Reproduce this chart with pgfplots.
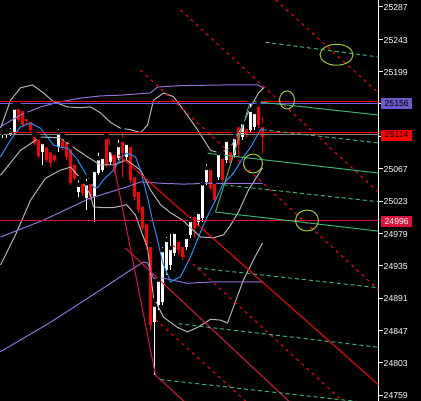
\documentclass[border=0pt]{standalone}
\usepackage{fontspec}
\setmainfont{Liberation Sans}
\usepackage{pgfplots}
\pgfplotsset{compat=1.18}
\usepackage{pgfplotstable}

\definecolor{mtblue}{RGB}{30,144,255}
\definecolor{mtpurple}{RGB}{147,112,219}
\definecolor{mtslate}{RGB}{106,90,205}
\definecolor{mtlevel}{RGB}{105,95,245}
\definecolor{mtgreen}{RGB}{60,179,113}
\definecolor{mtsilver}{RGB}{180,180,180}
\definecolor{mtgray}{RGB}{128,128,128}
\definecolor{mtcrimson}{RGB}{220,20,60}
\definecolor{mtyg}{RGB}{154,205,50}

% x = bar position, o h l c = prices
\pgfplotstableread{
x o h l c
2 25113 25120 25109 25116
6 25113 25122 25109 25117
10 25114 25125 25111 25118
14 25116 25154 25113 25150
42 25090 25106 25072 25103
58 25096 25124 25090 25117
78 25035 25054 25028 25045
86 25027 25056 25011 25047
94 25028 25069 24994 25065
98 25061 25092 25058 25081
102 25065 25087 25062 25083
110 25076 25096 25072 25092
118 25081 25109 25079 25099
126 25083 25106 25079 25102
154 24858 24888 24786 24882
158 24882 24922 24875 24916
162 24886 24963 24882 24956
166 24929 24977 24922 24970
170 24936 24981 24929 24959
174 24952 24986 24948 24981
186 24960 24980 24956 24974
190 24977 25004 24973 24997
198 24994 25014 24989 25008
202 25000 25052 24994 25047
206 25049 25076 25045 25068
218 25056 25092 25052 25088
226 25079 25110 25075 25106
234 25086 25116 25081 25110
242 25110 25135 25106 25130
250 25120 25159 25117 25147
254 25124 25150 25120 25144
}\upbars

\pgfplotstableread{
x o h l c
18 25151 25155 25130 25133
22 25148 25152 25124 25126
26 25137 25141 25128 25132
30 25133 25136 25116 25120
34 25113 25116 25099 25102
38 25109 25111 25081 25084
46 25099 25102 25076 25079
50 25092 25096 25069 25075
54 25088 25092 25076 25079
62 25110 25113 25092 25095
66 25106 25109 25079 25083
70 25096 25099 25045 25047
74 25075 25079 25052 25054
82 25049 25052 25030 25034
90 25049 25052 25024 25028
106 25110 25113 25069 25072
114 25088 25092 25061 25065
122 25106 25120 25056 25088
130 25099 25103 25047 25052
134 25058 25062 25024 25028
138 25038 25042 25007 25011
142 25018 25024 24984 24986
146 24994 24997 24956 24963
150 24963 24970 24848 24854
178 24970 24975 24950 24956
182 24963 24967 24943 24947
194 25004 25011 24973 24986
210 25068 25072 25038 25041
214 25049 25054 25020 25024
222 25083 25088 25047 25052
230 25092 25096 25071 25075
238 25126 25130 25083 25099
246 25124 25128 25109 25113
258 25154 25158 25122 25126
262 25126 25140 25088 25110
}\downbars

\begin{document}
\begin{tikzpicture}
\fill[black] (0,0) rectangle (421bp,401bp);
\begin{axis}[
    at={(0,0)}, anchor=south west,
    scale only axis,
    width=378.5bp, height=401bp,
    xmin=-0.5, xmax=378,
    ymin=24750.9, ymax=25296.5,
    axis x line=none,
    axis y line*=right,
    axis line style={white, line width=1bp},
    ytick={24759,24803,24847,24891,24935,24979,25023,25067,25111,25155,25199,25243,25287},
    yticklabels={24759,24803,24847,24891,24935,24979,25023,25067,{},{},25199,25243,25287},
    tick align=outside,
    major tick length=4bp,
    tick style={white, line width=1bp},
    yticklabel style={font=\fontsize{8.7}{9}\selectfont, text=white, inner sep=1bp, yshift=-0.8bp},
    no markers,
]

% candles: wicks, then bodies
\addplot[only marks, mark=none, forget plot,
  error bars/.cd, y dir=minus, y explicit, error mark=none,
  error bar style={draw=white, line width=1bp}]
  table[x=x, y=h, y error minus expr={\thisrow{h}-\thisrow{l}}] {\upbars};
\addplot[only marks, mark=none, forget plot,
  error bars/.cd, y dir=minus, y explicit, error mark=none,
  error bar style={draw=white, line width=3bp}]
  table[x=x, y=c, y error minus expr={\thisrow{c}-\thisrow{o}}] {\upbars};
\addplot[only marks, mark=none, forget plot,
  error bars/.cd, y dir=minus, y explicit, error mark=none,
  error bar style={draw=red, line width=1bp}]
  table[x=x, y=h, y error minus expr={\thisrow{h}-\thisrow{l}}] {\downbars};
\addplot[only marks, mark=none, forget plot,
  error bars/.cd, y dir=minus, y explicit, error mark=none,
  error bar style={draw=red, line width=3bp}]
  table[x=x, y=o, y error minus expr={\thisrow{o}-\thisrow{c}}] {\downbars};

% bollinger bands (silver)
\addplot[mtsilver, line width=1bp] coordinates {
(0,25122) (10,25160) (20,25177) (32,25181) (43,25170) (53,25158) (67,25151)
(80,25150) (90,25151) (100,25143) (110,25130) (120,25122) (130,25120) (140,25116)
(147,25126) (153,25160) (163,25170) (173,25165) (183,25147) (197,25120) (210,25092)
(220,25088) (230,25096) (240,25120) (250,25151) (258,25170) (263,25177)};
\addplot[mtsilver, line width=1bp] coordinates {
(0,25058) (20,25092) (40,25110) (60,25109) (73,25096) (87,25083) (100,25072)
(113,25072) (126,25079) (140,25065) (150,25038) (160,25018) (170,25007) (182,24997)
(200,24974) (213,24973) (223,24977) (230,24990) (238,25008) (248,25038) (262,25068)};
\addplot[mtsilver, line width=1bp] coordinates {
(0,24936) (15,24977) (30,25024) (45,25054) (60,25065) (70,25069) (80,25054)
(90,25031) (93,25015) (103,25014) (113,25014) (126,25018) (135,25004) (142,24977)
(147,24960) (153,24892) (163,24865) (177,24851) (187,24845) (197,24851) (210,24862)
(220,24861) (227,24857) (233,24879) (243,24916) (253,24943) (262,24966)};

% slow bands (purple)
\addplot[mtpurple, line width=1bp] coordinates {
(0,25124) (20,25140) (40,25151) (60,25158) (80,25163) (100,25166) (120,25167)
(140,25169) (150,25170) (157,25178) (180,25180) (230,25181) (257,25181) (263,25177)};
\addplot[mtpurple, line width=1bp] coordinates {
(0,24974) (43,24997) (90,25027) (126,25042) (140,25049) (163,25047) (183,25046)
(207,25047) (262,25047)};
\addplot[mtpurple, line width=1bp] coordinates {
(0,24818) (50,24858) (100,24902) (130,24929) (143,24940) (147,24939) (153,24918)
(163,24918) (180,24913) (187,24911) (213,24913) (262,24913)};

% moving average (blue)
\addplot[mtblue, line width=1bp] coordinates {
(0,25083) (10,25106) (20,25124) (30,25129) (40,25122) (47,25110) (53,25099)
(60,25096) (67,25095) (77,25079) (87,25056) (93,25042) (97,25041) (103,25052)
(113,25065) (120,25081) (126,25088) (130,25086) (135,25083) (140,25065) (147,25028)
(152,24997) (157,24970) (162,24940) (170,24913) (180,24920) (190,24947) (200,24981)
(210,25011) (215,25024) (222,25045) (233,25061) (243,25083) (250,25096) (260,25120)
(263,25121)};

% horizontal levels
\addplot[red, line width=1bp] coordinates {(-0.5,25158.3) (378,25158.3)};
\addplot[mtlevel, line width=1.5bp] coordinates {(-0.5,25155.8) (378,25155.8)};
\addplot[red, line width=1bp] coordinates {(-0.5,25115.8) (378,25115.8)};
\addplot[mtgray, line width=1.4bp] coordinates {(-0.5,25113.5) (378,25113.5)};
\addplot[mtcrimson, line width=1.2bp] coordinates {(-0.5,24996) (378,24996)};

% channel lines (red)
\addplot[red, line width=1bp, dash pattern=on 3bp off 4bp] coordinates {(270,25303) (378,25170)};
\addplot[red, line width=1bp, dash pattern=on 3bp off 4bp] coordinates {(180,25283) (378,25035)};
\addplot[red, line width=1bp, dash pattern=on 3bp off 4bp] coordinates {(140,25201) (378,24902)};
\addplot[red, line width=1bp, dash pattern=on 3bp off 4bp] coordinates {(172,24963) (342,24751)};
\addplot[red, line width=1bp, dash pattern=on 3bp off 4bp] coordinates {(150,24868) (245,24751)};
\addplot[red, line width=1bp] coordinates {(118,25086) (378,24773)};
\addplot[mtcrimson, line width=1bp] coordinates {(107,25116) (155,24786) (183,24751)};
\addplot[mtcrimson, line width=1bp] coordinates {(125,24959) (288,24751)};

% pitchfork (green)
\addplot[mtgreen, line width=1bp] coordinates {(215,25008) (250,25159) (378,25140)};
\addplot[mtgreen, line width=1bp] coordinates {(207,25088) (378,25061)};
\addplot[mtgreen, line width=1bp] coordinates {(215,25008) (378,24982)};
\addplot[mtgreen, line width=1bp, dash pattern=on 4bp off 3bp] coordinates {(265,25239) (378,25219)};
\addplot[mtgreen, line width=1bp, dash pattern=on 4bp off 3bp] coordinates {(262,25120) (378,25102)};
\addplot[mtgreen, line width=1bp, dash pattern=on 4bp off 3bp] coordinates {(223,25045) (378,25022)};
\addplot[mtgreen, line width=1bp, dash pattern=on 4bp off 3bp] coordinates {(197,24932) (378,24905)};
\addplot[mtgreen, line width=1bp, dash pattern=on 4bp off 3bp] coordinates {(178,24856) (378,24824)};
\addplot[mtgreen, line width=1bp, dash pattern=on 4bp off 3bp] coordinates {(160,24780) (378,24747)};

% marked spots
\draw[mtyg, line width=1bp] (axis cs:336,25222) ellipse [x radius=16.5bp, y radius=10.5bp];
\draw[mtyg, line width=1bp] (axis cs:286.5,25160.5) ellipse [x radius=7.5bp, y radius=9bp];
\draw[mtyg, line width=1bp] (axis cs:252.5,25074) ellipse [x radius=9.5bp, y radius=9.5bp];
\draw[mtyg, line width=1bp] (axis cs:306.5,24996.5) ellipse [x radius=11.5bp, y radius=10.5bp];

\coordinate (b1) at (axis cs:378,25155.3);
\coordinate (b2) at (axis cs:378,25112.8);
\coordinate (b3) at (axis cs:378,24994.6);
\end{axis}
\begin{scope}[every node/.style={anchor=west, minimum width=31bp, minimum height=11bp,
    inner sep=0pt, font=\fontsize{8.7}{9}\selectfont}]
\node[fill=mtslate, text=black] at ([xshift=2.5bp]b1) {25156};
\node[fill=red, text=black] at ([xshift=2.5bp]b2) {25114};
\node[fill=mtcrimson, text=white] at ([xshift=2.5bp]b3) {24996};
\end{scope}
\pgfresetboundingbox
\useasboundingbox (0,0) rectangle (421bp,401bp);
\end{tikzpicture}
\end{document}
